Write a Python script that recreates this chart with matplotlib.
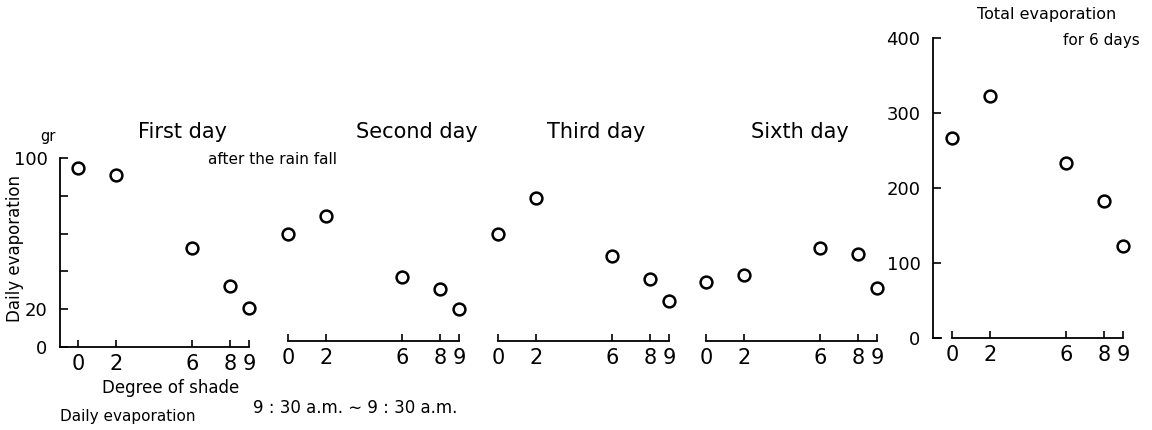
import matplotlib.pyplot as plt

plt.rcParams['font.family'] = 'DejaVu Sans'

# Degree of shade and daily evaporation (gr)
shade = [0, 2, 6, 8, 9]
first_day = [94.7, 91, 52.4, 32.3, 20.6]
second_day = [59.8, 69.3, 37, 30.7, 20.1]
third_day = [59.8, 78.8, 48.1, 36, 24.3]
sixth_day = [34.4, 38, 52.4, 49.2, 31.2]
total_6days = [267, 323, 234, 183, 123]

day_titles = ['First day', 'Second day', 'Third day', 'Sixth day']
day_values = [first_day, second_day, third_day, sixth_day]

W, H = 1152, 430
fig = plt.figure(figsize=(W / 100, H / 100), dpi=100)


def add_ax(left, top, width, height):
    # pixel box, measured from the top left corner
    return fig.add_axes([left / W, 1 - (top + height) / H, width / W, height / H])


def ftext(x, y, s, **kw):
    fig.text(x / W, 1 - y / H, s, **kw)


def circles(ax, xs, ys):
    ax.plot(xs, ys, 'o', mfc='white', mec='black', ms=8.5, mew=1.8, clip_on=False)


scale = 19.0  # pixels per shade unit
origins = [78, 288, 498, 706]
title_x = [182, 417, 596, 800]

for i in range(4):
    ax = add_ax(origins[i] - 18, 158, 200, 189)
    ax.set_xlim(-18 / scale, 182 / scale)
    ax.set_ylim(0, 100)
    ax.patch.set_visible(False)
    circles(ax, shade, day_values[i])
    for s in ['top', 'right']:
        ax.spines[s].set_visible(False)
    ax.set_xticks(shade)
    ax.tick_params(axis='x', direction='in', length=5, width=1.2, labelsize=15, pad=5)
    if i == 0:
        ax.spines['bottom'].set_bounds(-18 / scale, 9)
        ax.set_yticks([0, 20, 40, 60, 80, 100])
        ax.set_yticklabels(['0', '20', '', '', '', '100'])
        ax.tick_params(axis='y', direction='in', length=6, width=1.2, labelsize=13, pad=9)
    else:
        ax.spines['bottom'].set_bounds(0, 9)
        ax.spines['bottom'].set_position(('outward', -4))
        ax.spines['left'].set_visible(False)
        ax.set_yticks([])
    for s in ['left', 'bottom']:
        ax.spines[s].set_linewidth(1.3)
    ftext(title_x[i], 132, day_titles[i], fontsize=15, ha='center', va='center')

# total evaporation panel
axt = add_ax(933, 38, 200, 300)
axt.set_xlim(-1, 200 / scale - 1)
axt.set_ylim(0, 400)
axt.patch.set_visible(False)
circles(axt, shade, total_6days)
for s in ['top', 'right']:
    axt.spines[s].set_visible(False)
axt.spines['bottom'].set_bounds(0, 9)
axt.axhline(0, xmax=0.04, color='black', lw=1.3, clip_on=False)
axt.set_xticks(shade)
axt.set_yticks([0, 100, 200, 300, 400])
axt.tick_params(axis='x', direction='in', length=5, width=1.2, labelsize=15, pad=5)
axt.tick_params(axis='y', direction='in', length=6, width=1.2, labelsize=13, pad=9)
for s in ['left', 'bottom']:
    axt.spines[s].set_linewidth(1.3)

# labels and notes
ftext(48, 137, 'gr', fontsize=10.5, ha='center', va='center')
ftext(272, 160, 'after the rain fall', fontsize=11, ha='center', va='center')
ftext(15, 248, 'Daily evaporation', fontsize=12, rotation=90, ha='center', va='center')
ftext(171, 388, 'Degree of shade', fontsize=12, ha='center', va='center')
ftext(60, 417, 'Daily evaporation', fontsize=11, ha='left', va='center')
ftext(253, 408, '9 : 30 a.m. \u223c 9 : 30 a.m.', fontsize=12, ha='left', va='center')
ftext(1047, 14, 'Total evaporation', fontsize=11.5, ha='center', va='center')
ftext(1101, 40, 'for 6 days', fontsize=11, ha='center', va='center')

plt.savefig('out.png', dpi=100)
